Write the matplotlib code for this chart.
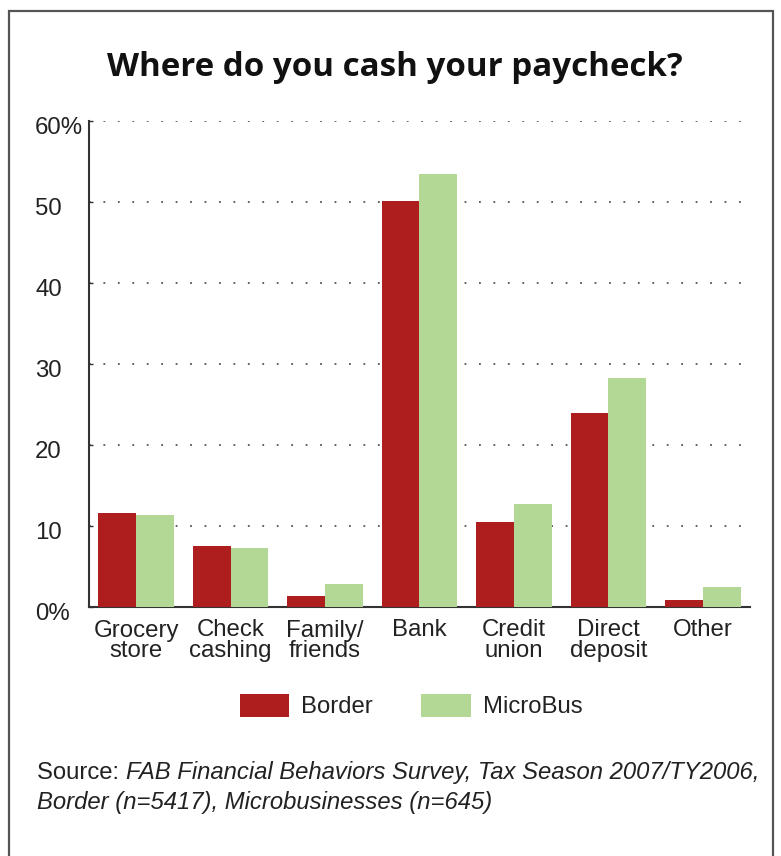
import numpy as np
import matplotlib
matplotlib.use("Agg")
import matplotlib.pyplot as plt
from matplotlib.patches import Rectangle

# data
categories = ["Grocery\nstore", "Check\ncashing", "Family/\nfriends", "Bank",
              "Credit\nunion", "Direct\ndeposit", "Other"]
border = [11.6, 7.5, 1.4, 50.1, 10.5, 24.0, 0.9]
microbus = [11.4, 7.3, 2.8, 53.5, 12.7, 28.3, 2.5]
yticks = [0, 10, 20, 30, 40, 50, 60]
ytick_labels = ["0%", "10", "20", "30", "40", "50", "60%"]

red = "#AF1E1E"
green = "#B3D794"
txt = "#222222"

plt.rcParams["font.family"] = ["Liberation Sans", "DejaVu Sans"]

fig = plt.figure(figsize=(7.81, 8.56), dpi=100)
ax = fig.add_axes([89 / 781, 1 - 607 / 856, (750 - 89) / 781, (607 - 121) / 856])

x = np.arange(len(categories))
w = 0.40
ax.bar(x - w / 2, border, w, color=red, label="Border", zorder=3)
ax.bar(x + w / 2, microbus, w, color=green, label="MicroBus", zorder=3)

ax.set_xlim(-0.5, len(categories) - 0.5)
ax.set_ylim(0, 60)
ax.set_yticks(yticks)
ax.set_yticklabels([])
ax.tick_params(axis="y", direction="in", length=3, width=1, color="#333333")
# y labels are left aligned in the reference, a bit below the gridline
for yv, lab in zip(yticks, ytick_labels):
    ax.annotate(lab, xy=(0, yv), xycoords=("axes fraction", "data"),
                xytext=(-54 * 0.72, -7 * 0.72), textcoords="offset points",
                ha="left", va="center", fontsize=17.3, color=txt)
ax.set_xticks(x)
ax.set_xticklabels(categories, fontsize=17.3, color=txt, linespacing=0.93)
ax.tick_params(axis="x", length=0, pad=9)

for y in yticks[1:]:
    ax.axhline(y, color="#555555", linestyle=(0, (1, 7)), linewidth=1.3, zorder=1)

for s in ["top", "right"]:
    ax.spines[s].set_visible(False)
for s in ["left", "bottom"]:
    ax.spines[s].set_color("#333333")
    ax.spines[s].set_linewidth(1.5)

fig.text(395 / 781, 1 - 68 / 856, "Where do you cash your paycheck?",
         family="Open Sans", fontweight="bold", fontsize=23.9, color="#111111",
         ha="center", va="center")

fig.legend(loc="center", bbox_to_anchor=(411 / 781, 1 - 706 / 856), ncol=2,
           frameon=False, fontsize=17.2, handlelength=2.09, handleheight=1.09,
           handletextpad=0.5, columnspacing=2.0, labelcolor=txt)

t = fig.text(37 / 781, 1 - 773 / 856, "Source: ", fontsize=17.2, color=txt,
             va="center", ha="left")
ax.annotate("FAB Financial Behaviors Survey, Tax Season 2007/TY2006,",
            xy=(1, 0.5), xycoords=t, va="center", ha="left",
            fontsize=17.2, style="italic", color=txt)
fig.text(37 / 781, 1 - 803 / 856, "Border (n=5417), Microbusinesses (n=645)",
         fontsize=17.2, style="italic", color=txt, va="center", ha="left")

# outer frame (open at the bottom)
fig.add_artist(Rectangle((9 / 781, -0.05), (773 - 9) / 781, 1.05 - 11 / 856,
                         transform=fig.transFigure, fill=False,
                         edgecolor="#555555", linewidth=1.6))

fig.savefig("out.png", dpi=100)
